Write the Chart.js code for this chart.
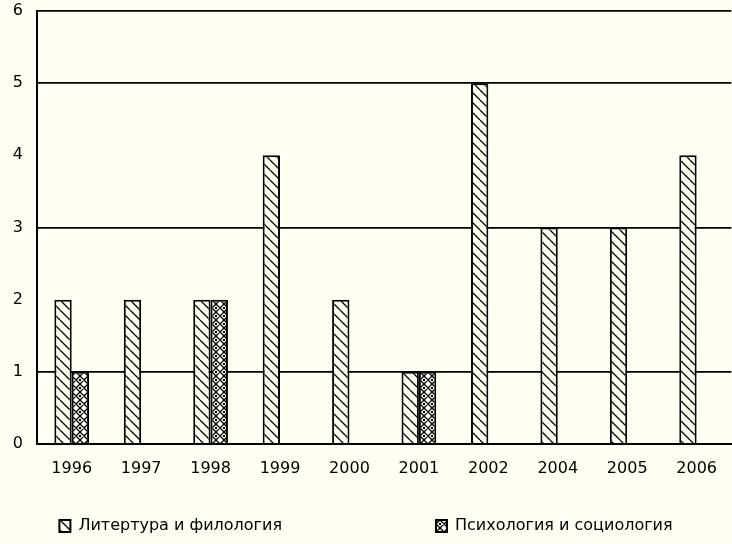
<!DOCTYPE html>
<html lang="ru">
<head>
<meta charset="utf-8">
<title>Публикации по годам</title>
<script src="https://cdn.jsdelivr.net/npm/chart.js@4.4.1/dist/chart.umd.min.js"></script>
<style>
  html, body { margin: 0; padding: 0; background: #fffff2; }
  #grafico { display: block; }
</style>
</head>
<body>
<canvas id="grafico" width="732" height="544"></canvas>
<script>
const categorias = ['1996', '1997', '1998', '1999', '2000', '2001', '2002', '2004', '2005', '2006'];
const literatura = [2, 2, 2, 4, 2, 1, 5, 3, 3, 4];
const psicologia = [1, 0, 2, 0, 0, 1, 0, 0, 0, 0];
const nombres = ['Литертура и филология', 'Психология и социология'];
const lineasGuia = [1, 3, 5, 6]; // only these values get a horizontal line
const ejeMax = 6;

const fondo = '#fffff2';
const fuente = { family: 'DejaVu Sans', size: 16 };

// hatch fills like the old black & white chart
function crearTrama(tipo) {
    const t = tipo === 'rayas' ? 10 : 8;
    const c = document.createElement('canvas');
    c.width = t;
    c.height = t;
    const g = c.getContext('2d');
    g.fillStyle = fondo;
    g.fillRect(0, 0, t, t);
    g.strokeStyle = '#000';
    g.lineWidth = 1.3;
    g.beginPath();
    for (let k = -t; k <= t; k += t) {
        g.moveTo(k, 0);
        g.lineTo(k + t, t);
        if (tipo === 'cruz') {
            g.moveTo(k + t, 0);
            g.lineTo(k, t);
        }
    }
    g.stroke();
    g.fillStyle = '#000';
    if (tipo === 'cruz') {
        g.fillRect(-1, t / 2 - 1, 2, 2);
        g.fillRect(t - 1, t / 2 - 1, 2, 2);
    }
    return g.createPattern(c, 'repeat');
}

const pintarFondo = {
    id: 'pintarFondo',
    beforeDraw(chart) {
        const ctx = chart.ctx;
        ctx.save();
        ctx.fillStyle = fondo;
        ctx.fillRect(0, 0, chart.width, chart.height);
        ctx.restore();
    }
};

const ctx = document.getElementById('grafico').getContext('2d');

new Chart(ctx, {
    type: 'bar',
    data: {
        labels: categorias,
        datasets: [{
            label: nombres[0],
            data: literatura,
            backgroundColor: crearTrama('rayas'),
            borderColor: '#000',
            borderWidth: 2
        }, {
            label: nombres[1],
            data: psicologia,
            backgroundColor: crearTrama('cruz'),
            borderColor: '#000',
            borderWidth: 2
        }]
    },
    options: {
        responsive: false,
        animation: false,
        layout: { padding: { top: 0, left: 0, right: 0, bottom: 0 } },
        datasets: {
            bar: { categoryPercentage: 0.5, barPercentage: 1 }
        },
        scales: {
            x: {
                grid: { display: false, drawTicks: false },
                border: { color: '#000', width: 2 },
                ticks: { color: '#000', font: fuente, padding: 15, maxRotation: 0, autoSkip: false },
                afterFit: function(eje) { eje.height = 64; }
            },
            y: {
                min: 0,
                max: ejeMax,
                ticks: { stepSize: 1, color: '#000', font: fuente, padding: 14 },
                grid: {
                    drawTicks: false,
                    lineWidth: 1.8,
                    color: function(c) {
                        return lineasGuia.includes(c.tick.value) ? '#000' : 'rgba(0,0,0,0)';
                    }
                },
                border: { color: '#000', width: 2 },
                afterFit: function(eje) {
                    eje.width = 37;
                    eje.paddingTop = 11;
                    eje.paddingBottom = 0;
                }
            }
        },
        plugins: {
            legend: {
                position: 'bottom',
                labels: {
                    boxWidth: 11,
                    boxHeight: 12,
                    padding: 10,
                    color: '#000',
                    font: fuente,
                    generateLabels: function(chart) {
                        const items = Chart.defaults.plugins.legend.labels.generateLabels(chart);
                        // wide gap between the two entries, as in the original
                        items[0].text = items[0].text + '\u2003'.repeat(9);
                        return items;
                    }
                }
            },
            tooltip: { enabled: false }
        }
    },
    plugins: [pintarFondo]
});
</script>
</body>
</html>
